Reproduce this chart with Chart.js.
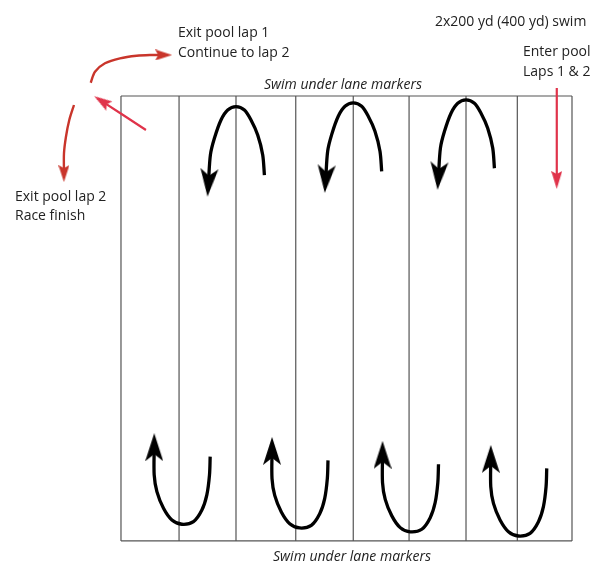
<!DOCTYPE html>
<html>
<head>
<meta charset="utf-8">
<script src="https://cdn.jsdelivr.net/npm/chart.js@4.4.1/dist/chart.umd.min.js"></script>
<style>
  html, body { margin: 0; padding: 0; background: #fff; }
  #wrap { width: 591px; height: 565px; }
</style>
</head>
<body>
<div id="wrap"><canvas id="poolChart" width="591" height="565"></canvas></div>
<script>
// pool: 8 lanes across (lane widths), 25 yd long
const laneEdges = [0, 1.03, 2.04, 3.10, 4.12, 5.11, 6.12, 7.03, 8];
const poolLength = 25;

// turns under the lane markers (which marker, how far from the wall)
const topTurnLines = [2, 4, 6];
const topTurnPeak = [0.6, 0.39, 0.22];
const bottomTurnLines = [1, 3, 5, 7];
const bottomTurnDepth = [24.06, 24.27, 24.49, 24.72];
const bottomTurnShift = [0.05, 0.07, 0.02, 0.02];

// arc shape of a turn, relative to the marker / wall end
const topArcDx = [0.504, 0.474, 0.385, 0.266, 0.149, 0, -0.147, -0.266, -0.383, -0.454, -0.488];
const topArcDy = [3.84, 2.71, 1.59, 0.75, 0.19, 0, 0.19, 0.75, 1.78, 2.71, 4.27];
const bottomArcDx = [0.502, 0.49, 0.443, 0.355, 0.206, 0, -0.177, -0.326, -0.443, -0.491, -0.491];
const bottomArcDy = [-3.8, -2.77, -1.65, -0.8, -0.15, 0, -0.24, -0.9, -1.83, -2.77, -4.33];

// red route arrows
const enterX = [7.73, 7.73];
const enterY = [-0.45, 4.72];
const exitLap1X = [0.443, -0.342];
const exitLap1Y = [1.91, 0.287];
const continueX = [-0.537, -0.461, -0.284, -0.018, 0.278, 0.514, 0.757];
const continueY = [-0.747, -1.365, -1.837, -2.118, -2.264, -2.303, -2.303];
const finishX = [-0.834, -0.917, -0.976, -1.011, -1.011];
const finishY = [0.506, 1.348, 2.287, 3.219, 4.365];

function makeHead(color, w, h, notch) {
  const c = document.createElement('canvas');
  c.width = w; c.height = h;
  const g = c.getContext('2d');
  g.fillStyle = color;
  g.beginPath();
  g.moveTo(w / 2, 0);
  g.lineTo(w, h);
  g.lineTo(w / 2, h - notch);
  g.lineTo(0, h);
  g.closePath();
  g.fill();
  return c;
}

const blackHead = makeHead('#000', 18, 28, 7);
const redHead = makeHead('#c9352b', 11, 17, 3);
const pinkHead = makeHead('#e0334a', 11, 18, 3);

function zip(xs, ys) {
  return xs.map((x, i) => ({ x: x, y: ys[i] }));
}

function arrow(points, color, width, head, rot) {
  const last = points.length - 1;
  return {
    data: points,
    showLine: true,
    borderColor: color,
    borderWidth: width,
    tension: 0.3,
    borderCapStyle: 'butt',
    borderJoinStyle: 'round',
    pointRadius: c => c.dataIndex === last ? 5 : 0,
    pointStyle: c => c.dataIndex === last ? head : 'circle',
    pointRotation: rot,
    order: 0
  };
}

const datasets = [];

// lane markers
laneEdges.forEach(x => {
  datasets.push({
    data: [{ x: x, y: 0 }, { x: x, y: poolLength }],
    showLine: true, borderColor: '#555', borderWidth: 1.2,
    pointRadius: 0, order: 5
  });
});
// pool ends
[0, poolLength].forEach(y => {
  datasets.push({
    data: [{ x: laneEdges[0], y: y }, { x: laneEdges[laneEdges.length - 1], y: y }],
    showLine: true, borderColor: '#555', borderWidth: 1.2,
    pointRadius: 0, order: 5
  });
});

topTurnLines.forEach((ln, i) => {
  const cx = laneEdges[ln];
  const pts = topArcDx.map((dx, k) => ({ x: cx + dx, y: topTurnPeak[i] + topArcDy[k] }));
  datasets.push(arrow(pts, '#000', 3.3, blackHead, 184));
});
bottomTurnLines.forEach((ln, i) => {
  const cx = laneEdges[ln] + bottomTurnShift[i];
  const pts = bottomArcDx.map((dx, k) => ({ x: cx + dx, y: bottomTurnDepth[i] + bottomArcDy[k] }));
  datasets.push(arrow(pts, '#000', 3.3, blackHead, 0));
});

datasets.push(arrow(zip(enterX, enterY), '#e0334a', 2.2, pinkHead, 180));
datasets.push(arrow(zip(exitLap1X, exitLap1Y), '#e0334a', 2.2, pinkHead, -56.8));
datasets.push(arrow(zip(continueX, continueY), '#c9352b', 2.4, redHead, 90));
datasets.push(arrow(zip(finishX, finishY), '#c9352b', 2.4, redHead, 180));

// annotation text, placed in pool units
const labels = [
  { t: 'Exit pool lap 1', x: 1.011, y: -3.54 },
  { t: 'Continue to lap 2', x: 1.011, y: -2.416 },
  { t: 'Exit pool lap 2', x: -1.88, y: 5.674 },
  { t: 'Race finish', x: -1.88, y: 6.74 },
  { t: '2x200 yd (400 yd) swim', x: 5.57, y: -4.157 },
  { t: 'Enter pool', x: 7.131, y: -2.472 },
  { t: 'Laps 1 & 2', x: 7.131, y: -1.348 },
  { t: 'Swim under lane markers', x: 3.938, y: -0.618, italic: true },
  { t: 'Swim under lane markers', x: 4.098, y: 25.9, italic: true }
];

const textPlugin = {
  id: 'poolText',
  afterDatasetsDraw(chart) {
    const ctx = chart.ctx;
    const xs = chart.scales.x, ys = chart.scales.y;
    ctx.save();
    ctx.fillStyle = '#222';
    ctx.textBaseline = 'middle';
    labels.forEach(l => {
      ctx.font = (l.italic ? 'italic ' : '') + '14px "Open Sans"';
      ctx.textAlign = l.italic ? 'center' : 'left';
      ctx.fillText(l.t, xs.getPixelForValue(l.x), ys.getPixelForValue(l.y));
    });
    ctx.restore();
  }
};

new Chart(document.getElementById('poolChart'), {
  type: 'scatter',
  data: { datasets },
  options: {
    responsive: false,
    animation: false,
    layout: { padding: 0, autoPadding: false },
    plugins: { legend: { display: false }, tooltip: { enabled: false } },
    scales: {
      x: { type: 'linear', min: -2.146, max: 8.337, display: false },
      y: { type: 'linear', min: -5.393, max: 26.35, reverse: true, display: false }
    }
  },
  plugins: [textPlugin]
});
</script>
</body>
</html>
